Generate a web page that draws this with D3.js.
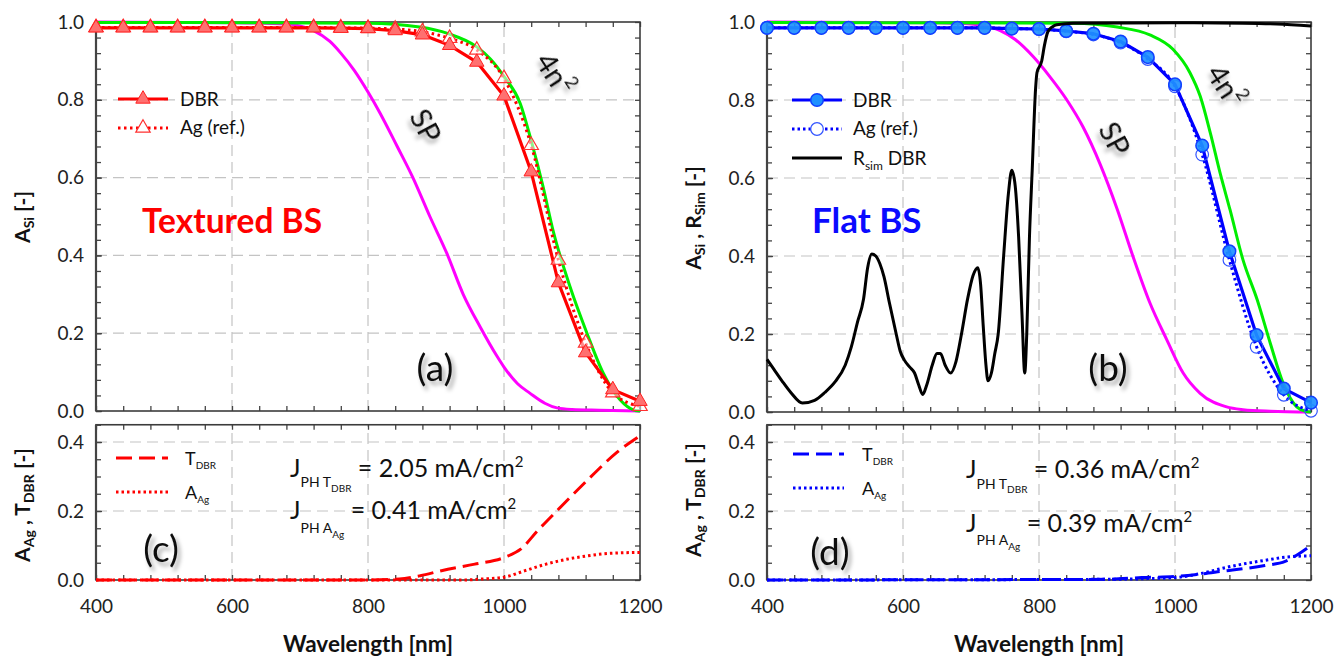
<!DOCTYPE html>
<html><head><meta charset="utf-8">
<script src="https://cdn.jsdelivr.net/npm/d3@7"></script>
<style>html,body{margin:0;padding:0;background:#fff;} svg{display:block;}</style>
</head><body><svg id="chart" width="1334" height="658"></svg>
<script>
// ---------------- DATA ----------------
const xTickLabels = [400, 600, 800, 1000, 1200];
const yTickLabelsTop = [0.0, 0.2, 0.4, 0.6, 0.8, 1.0];
const yTickLabelsBottom = [0.0, 0.2, 0.4];

// marker wavelengths (every 40 nm)
const wlMarkers = [400,440,480,520,560,600,640,680,720,760,800,840,880,920,960,1000,1040,1080,1120,1160,1200];
// (a) Textured BS
const dbrA = [0.985,0.985,0.985,0.985,0.985,0.985,0.985,0.985,0.985,0.984,0.983,0.978,0.967,0.940,0.897,0.810,0.615,0.330,0.150,0.055,0.025];
const agA  = [0.986,0.986,0.986,0.986,0.986,0.986,0.986,0.986,0.986,0.985,0.984,0.982,0.975,0.958,0.928,0.855,0.683,0.388,0.175,0.047,0.012];
const spWlA = [400,600,680,700,720,744,760,780,800,818,843,866,891,916,940,965,990,1000,1020,1038,1060,1078,1100,1140,1200];
const spA   = [1.0,0.998,0.995,0.99,0.978,0.95,0.92,0.875,0.82,0.765,0.68,0.60,0.50,0.405,0.30,0.216,0.14,0.113,0.07,0.046,0.02,0.008,0.004,0.002,0.0];
const lamWlA = [400,800,876,918,960,980,1000,1024,1040,1057,1072,1097,1122,1146,1171,1190,1200];
const lamA   = [0.999,0.997,0.987,0.97,0.936,0.905,0.86,0.79,0.695,0.58,0.465,0.32,0.20,0.097,0.028,0.003,0.0];
// (b) Flat BS
const dbrB = [0.985,0.985,0.985,0.985,0.985,0.985,0.985,0.985,0.985,0.983,0.982,0.977,0.970,0.950,0.910,0.840,0.683,0.412,0.197,0.060,0.024];
const agB  = [0.985,0.985,0.985,0.985,0.985,0.985,0.985,0.985,0.985,0.983,0.982,0.976,0.968,0.947,0.905,0.835,0.660,0.390,0.167,0.044,0.003];
const spWlB = [400,650,700,720,743,765,791,815,841,865,890,915,938,963,988,1012,1037,1076,1100,1140,1200];
const spB   = [1.0,0.998,0.995,0.99,0.978,0.955,0.912,0.862,0.80,0.73,0.635,0.52,0.40,0.28,0.185,0.10,0.048,0.013,0.006,0.002,0.0];
const lamWlB = [400,850,915,963,997,1022,1037,1052,1066,1081,1100,1121,1140,1159,1179,1192,1200];
const lamB   = [0.999,0.997,0.987,0.967,0.93,0.87,0.81,0.715,0.615,0.518,0.39,0.287,0.177,0.074,0.013,0.002,0.0];
const rsimWl = [400,410,422,435,452,470,485,500,515,524,533,542,548,554,560,566,572,580,590,596,602,610,617,623,629,635,643,650,655,662,670,678,686,695,703,710,714,718,722,725,730,735,740,748,755,760,765,770,775,779,782,786,790,795,797,804,808,813,820,826,850,1000,1100,1150,1200];
const rsim   = [0.135,0.11,0.08,0.05,0.023,0.03,0.05,0.077,0.12,0.167,0.23,0.29,0.37,0.405,0.40,0.38,0.347,0.28,0.20,0.155,0.133,0.115,0.10,0.07,0.045,0.07,0.12,0.15,0.15,0.12,0.10,0.13,0.20,0.29,0.35,0.37,0.33,0.22,0.12,0.08,0.10,0.15,0.20,0.40,0.56,0.62,0.58,0.45,0.25,0.10,0.20,0.45,0.62,0.83,0.87,0.90,0.94,0.975,0.988,0.993,0.997,0.998,0.997,0.995,0.99];
// (c) Textured: transmission through DBR and Ag absorption
const tWlC = [400,800,846,877,908,957,1000,1025,1049,1080,1123,1166,1200];
const tC   = [0,0,0.003,0.0125,0.027,0.046,0.065,0.09,0.142,0.205,0.29,0.37,0.418];
const aWlC = [400,940,969,1000,1031,1062,1092,1123,1154,1200];
const aC   = [0,0,0.003,0.008,0.027,0.046,0.06,0.07,0.077,0.08];
// (d) Flat
const tWlD = [400,900,951,1000,1041,1072,1102,1132,1162,1180,1200];
const tD   = [0,0.002,0.007,0.01,0.018,0.026,0.033,0.042,0.054,0.073,0.1];
const aWlD = [400,900,960,1000,1041,1072,1102,1132,1162,1180,1200];
const aD   = [0,0.002,0.004,0.007,0.02,0.035,0.047,0.057,0.066,0.069,0.07];

// ---------------- DRAW ----------------
const FONT = "Lato, 'Open Sans', 'DejaVu Sans', sans-serif";
const svg = d3.select("#chart").style("font-family", FONT);
svg.append("rect").attr("width",1334).attr("height",658).attr("fill","#fff");
const defs = svg.append("defs");
const f = defs.append("filter").attr("id","shadow").attr("x","-30%").attr("y","-30%").attr("width","180%").attr("height","180%");
f.append("feDropShadow").attr("dx",3).attr("dy",4).attr("stdDeviation",2.2).attr("flood-color","#000").attr("flood-opacity",0.35);

const panels = {
  a: {x:[96,640], y:[411,22], dom:[0,1], labelsX:false, gridY:[0.2,0.4,0.6,0.8], majY:yTickLabelsTop, minY:d3.range(0,1.0001,0.04)},
  b: {x:[767,1311], y:[412,22], dom:[0,1], labelsX:false, gridY:[0.2,0.4,0.6,0.8], majY:yTickLabelsTop, minY:d3.range(0,1.0001,0.04)},
  c: {x:[96,640], y:[580,424.75], dom:[0,0.45], labelsX:true, gridY:[0.2,0.4], majY:yTickLabelsBottom, minY:d3.range(0,0.4501,0.05)},
  d: {x:[767,1311], y:[580,424.75], dom:[0,0.45], labelsX:true, gridY:[0.2,0.4], majY:yTickLabelsBottom, minY:d3.range(0,0.4501,0.05)}
};
const xMinor = d3.range(400,1201,40);

function setupPanel(p){
  const x = d3.scaleLinear().domain([400,1200]).range(p.x);
  const y = d3.scaleLinear().domain(p.dom).range(p.y);
  const g = svg.append("g");
  g.selectAll(null).data([600,800,1000]).join("line")
    .attr("x1",d=>x(d)).attr("x2",d=>x(d)).attr("y1",p.y[0]).attr("y2",p.y[1])
    .attr("stroke","#c4c4c4").attr("stroke-width",1.2).attr("stroke-dasharray","11,6");
  g.selectAll(null).data(p.gridY).join("line")
    .attr("y1",d=>y(d)).attr("y2",d=>y(d)).attr("x1",p.x[0]).attr("x2",p.x[1])
    .attr("stroke","#c4c4c4").attr("stroke-width",1.2).attr("stroke-dasharray","11,6");
  const style = sel => { sel.select(".domain").remove(); sel.selectAll(".tick line").attr("stroke","#444").attr("stroke-width",1.3); sel.selectAll("text").attr("font-family",FONT).attr("font-size",19).attr("fill","#222"); };
  g.append("g").attr("transform",`translate(${p.x[0]},0)`).call(d3.axisLeft(y).tickValues(p.minY).tickSize(-5).tickFormat("")).call(style);
  g.append("g").attr("transform",`translate(${p.x[0]},0)`).call(d3.axisLeft(y).tickValues(p.majY).tickSize(-6).tickPadding(12).tickFormat(d3.format(".1f"))).call(style);
  g.append("g").attr("transform",`translate(${p.x[1]},0)`).call(d3.axisRight(y).tickValues(p.minY).tickSize(-5).tickFormat("")).call(style);
  g.append("g").attr("transform",`translate(0,${p.y[1]})`).call(d3.axisTop(x).tickValues(xMinor).tickSize(-5).tickFormat("")).call(style);
  g.append("g").attr("transform",`translate(0,${p.y[0]})`).call(d3.axisBottom(x).tickValues(xMinor).tickSize(-5).tickFormat("")).call(style);
  if (p.labelsX){
    g.append("g").attr("transform",`translate(0,${p.y[0]})`).call(d3.axisBottom(x).tickValues(xTickLabels).tickSize(0).tickPadding(20).tickFormat(d3.format("d"))).call(style);
  }
  g.append("rect").attr("x",p.x[0]).attr("y",p.y[1]).attr("width",p.x[1]-p.x[0]).attr("height",p.y[0]-p.y[1])
    .attr("fill","none").attr("stroke","#3c3c3c").attr("stroke-width",1.6);
  g.append("line").attr("x1",p.x[0]).attr("x2",p.x[0]).attr("y1",p.y[0]).attr("y2",p.y[1]).attr("stroke","#444").attr("stroke-width",2.2);
  const plot = svg.append("g");
  return {x,y,g:plot};
}

function curve(P, wl, vals, color, width, dash, curveType){
  const line = d3.line().x(d=>P.x(d[0])).y(d=>P.y(d[1])).curve(curveType || d3.curveMonotoneX);
  P.g.append("path").datum(d3.zip(wl, vals)).attr("d", line)
    .attr("fill","none").attr("stroke",color).attr("stroke-width",width)
    .attr("stroke-dasharray", dash || null).attr("stroke-linejoin","round");
}
const tri = d3.symbol().type(d3.symbolTriangle).size(90);
function triMarkers(P, wl, vals, filled){
  P.g.selectAll(null).data(d3.zip(wl, vals)).join("path").attr("d", tri)
    .attr("transform", d=>`translate(${P.x(d[0])},${P.y(d[1])})`)
    .attr("fill", filled ? "#ff7070" : "rgba(255,255,255,0.55)")
    .attr("stroke", filled ? "#ff2020" : "#ff3030").attr("stroke-width", filled?1:1.2);
}
function circMarkers(P, wl, vals, filled){
  P.g.selectAll(null).data(d3.zip(wl, vals)).join("circle")
    .attr("cx", d=>P.x(d[0])).attr("cy", d=>P.y(d[1])).attr("r", 6.3)
    .attr("fill", filled ? "rgba(30,144,255,0.92)" : "none")
    .attr("stroke", filled ? "#1040ff" : "#3355ff").attr("stroke-width", filled?1.5:1.2);
}
function rich(x, y, parts, attrs){
  const t = svg.append("text").attr("x",x).attr("y",y).attr("font-family",FONT).attr("fill","#111");
  if (attrs) Object.entries(attrs).forEach(([k,v])=>t.attr(k,v));
  parts.forEach(([s,size,dy])=>{
    t.append("tspan").attr("font-size",size).attr("dy",dy).text(s);
  });
  return t;
}
function label(x,y,s,size,attrs){
  const t = svg.append("text").attr("x",x).attr("y",y).attr("font-family",FONT).attr("font-size",size).attr("fill","#111").text(s);
  if (attrs) Object.entries(attrs).forEach(([k,v])=>t.attr(k,v));
  return t;
}

// ---- Panel (a)
const A = setupPanel(panels.a);
curve(A, spWlA, spA, "#ff00ff", 3);
curve(A, lamWlA, lamA, "#00ee00", 3);
curve(A, wlMarkers, agA, "#ff0000", 3, "2.5,3.5");
curve(A, wlMarkers, dbrA, "#ff0000", 3.2, null, d3.curveLinear);
triMarkers(A, wlMarkers, agA, false);
triMarkers(A, wlMarkers, dbrA, true);

// ---- Panel (b)
const B = setupPanel(panels.b);
curve(B, spWlB, spB, "#ff00ff", 3);
curve(B, lamWlB, lamB, "#00ee00", 3);
curve(B, wlMarkers, agB, "#0000ff", 3, "2.5,3");
curve(B, wlMarkers, dbrB, "#0000ff", 3.2, null, d3.curveLinear);
circMarkers(B, wlMarkers, agB, false);
circMarkers(B, wlMarkers, dbrB, true);
curve(B, rsimWl, rsim, "#000000", 3);

// ---- Panel (c)
const C = setupPanel(panels.c);
curve(C, aWlC, aC, "#ff0000", 3, "2.5,3");
curve(C, tWlC, tC, "#ff0000", 3, "16,7");

// ---- Panel (d)
const D = setupPanel(panels.d);
curve(D, aWlD, aD, "#0000ff", 3, "2.5,3");
curve(D, tWlD, tD, "#0000ff", 3, "16,7");

// ---- Legends
function legLine(x1,x2,y,color,width,dash){
  svg.append("line").attr("x1",x1).attr("x2",x2).attr("y1",y).attr("y2",y)
    .attr("stroke",color).attr("stroke-width",width).attr("stroke-dasharray",dash||null);
}
legLine(118,168,99,"#ff0000",3.2);
svg.append("path").attr("d",tri).attr("transform","translate(143,99)").attr("fill","#ff7070").attr("stroke","#ff2020");
label(180,106,"DBR",19);
legLine(118,168,128,"#ff0000",3,"2.5,3.5");
svg.append("path").attr("d",tri).attr("transform","translate(143,128)").attr("fill","#fff").attr("stroke","#ff3030").attr("stroke-width",1.2);
label(180,134,"Ag (ref.)",19);
legLine(792,842,100,"#0000ff",3.2);
svg.append("circle").attr("cx",817).attr("cy",100).attr("r",6.3).attr("fill","#1e90ff").attr("stroke","#1040ff").attr("stroke-width",1.5);
label(853,107,"DBR",19);
legLine(792,842,129,"#0000ff",3,"2.5,3");
svg.append("circle").attr("cx",817).attr("cy",129).attr("r",6.3).attr("fill","#fff").attr("stroke","#3355ff").attr("stroke-width",1.2);
label(853,135,"Ag (ref.)",19);
legLine(792,842,158,"#000",3.2);
rich(853,165,[["R",19,0],["sim",12,5],[" DBR",19,-5]]);
legLine(116,168,458,"#ff0000",3,"16,7");
rich(185,465,[["T",18,0],["DBR",10,4]]);
legLine(116,168,492,"#ff0000",3,"2.5,3");
rich(185,499,[["A",18,0],["Ag",10,4]]);
legLine(793,844,454,"#0000ff",3,"16,7");
rich(862,461,[["T",18,0],["DBR",10,4]]);
legLine(793,844,488,"#0000ff",3,"2.5,3");
rich(862,495,[["A",18,0],["Ag",10,4]]);

// ---- J_PH annotations
rich(290,477,[["J",25,0],["PH T",14,10],["DBR",10,5],[" = 2.05 mA/cm",25,-15],["2",15,-10]]);
rich(290,519,[["J",25,0],["PH A",14,14],["Ag",10,5],[" = 0.41 mA/cm",25,-19],["2",15,-10]]);
rich(966,478,[["J",25,0],["PH T",14,11],["DBR",10,4],[" = 0.36 mA/cm",25,-15],["2",15,-10]]);
rich(966,532,[["J",25,0],["PH A",14,13],["Ag",10,5],[" = 0.39 mA/cm",25,-18],["2",15,-10]]);

// ---- Panel titles / letters
label(142,233,"Textured BS",33.5,{"font-weight":"bold","fill":"#ff0000"});
label(812,233,"Flat BS",35,{"font-weight":"bold","fill":"#0a0aff"});
[["(a)",435,366],["(b)",1108,366],["(c)",161,547],["(d)",830,550]].forEach(([s,x,y])=>{
  label(x,y,s,37,{"text-anchor":"middle","dominant-baseline":"central","filter":"url(#shadow)"});
});
function rotText(x,y,parts,angle){
  const t = rich(0,0,parts,{"text-anchor":"middle","dominant-baseline":"central","filter":"url(#shadow)"});
  t.attr("transform",`translate(${x},${y}) rotate(${angle})`);
}
rotText(427,125,[["SP",29,0]],62);
rotText(1116,138,[["SP",29,0]],62);
rotText(556,73,[["4n",29,0],["2",18,-9]],57);
rotText(1227,85,[["4n",29,0],["2",18,-9]],57);

// ---- Axis titles
function yTitle(cx, cy, parts){
  const t = rich(0,0,parts,{"text-anchor":"middle","font-weight":"bold"});
  t.attr("transform",`translate(${cx},${cy}) rotate(-90)`);
}
yTitle(30,217,[["A",21,0],["Si",14,4],[" [-]",21,-4]]);
yTitle(701,218,[["A",21,0],["Si",14,4],[" , R",21,-4],["Sim",14,4],[" [-]",21,-4]]);
yTitle(30,505,[["A",21,0],["Ag",14,4],[" , T",21,-4],["DBR",14,4],[" [-]",21,-4]]);
yTitle(701,500,[["A",21,0],["Ag",14,4],[" , T",21,-4],["DBR",14,4],[" [-]",21,-4]]);
label(368,652,"Wavelength [nm]",22.5,{"text-anchor":"middle","font-weight":"bold"});
label(1039,652,"Wavelength [nm]",22.5,{"text-anchor":"middle","font-weight":"bold"});
</script></body></html>
